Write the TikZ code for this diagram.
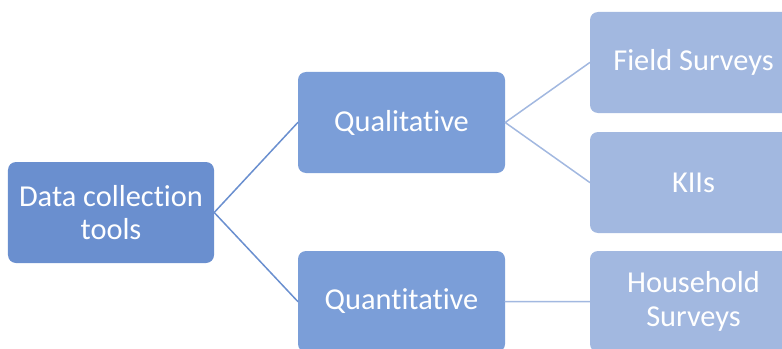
\documentclass[tikz,border=0pt]{standalone}
\usepackage{fontspec}
\setmainfont{Carlito}[Ligatures=NoCommon]
\definecolor{lvla}{HTML}{6A8FCF}
\definecolor{lvlb}{HTML}{7B9ED8}
\definecolor{lvlc}{HTML}{A2B8E0}
\tikzset{box/.style={rounded corners=8bp, minimum width=207bp, minimum height=101bp, inner sep=0pt, text=white, align=center}}
\begin{document}
\begin{tikzpicture}[x=1bp,y=1bp,font=\fontsize{30.5}{34}\selectfont, line join=round, line cap=round]
	\clip (0,0) rectangle (782,348);
	\node[box,fill=lvla,minimum width=206bp] (data) at (111,135.5) {Data collection\\tools};
	\node[box,fill=lvlb] (qual) at (401.5,225.5) {Qualitative};
	\node[box,fill=lvlb] (quant) at (401.5,46.5) {Quantitative};
	\node[box,fill=lvlc] (field) at (693.5,285.5) {Field Surveys};
	\node[box,fill=lvlc] (kii) at (693.5,165.5) {KIIs};
	\node[box,fill=lvlc] (house) at (693.5,46.5) {Household\\Surveys};
	\draw[lvla,line width=1.5bp] (data.east)--(qual.west) (data.east)--(quant.west);
	\draw[lvlc,line width=1.5bp] (qual.east)--(field.west) (qual.east)--(kii.west) (quant.east)--(house.west);
\end{tikzpicture}
\end{document}
